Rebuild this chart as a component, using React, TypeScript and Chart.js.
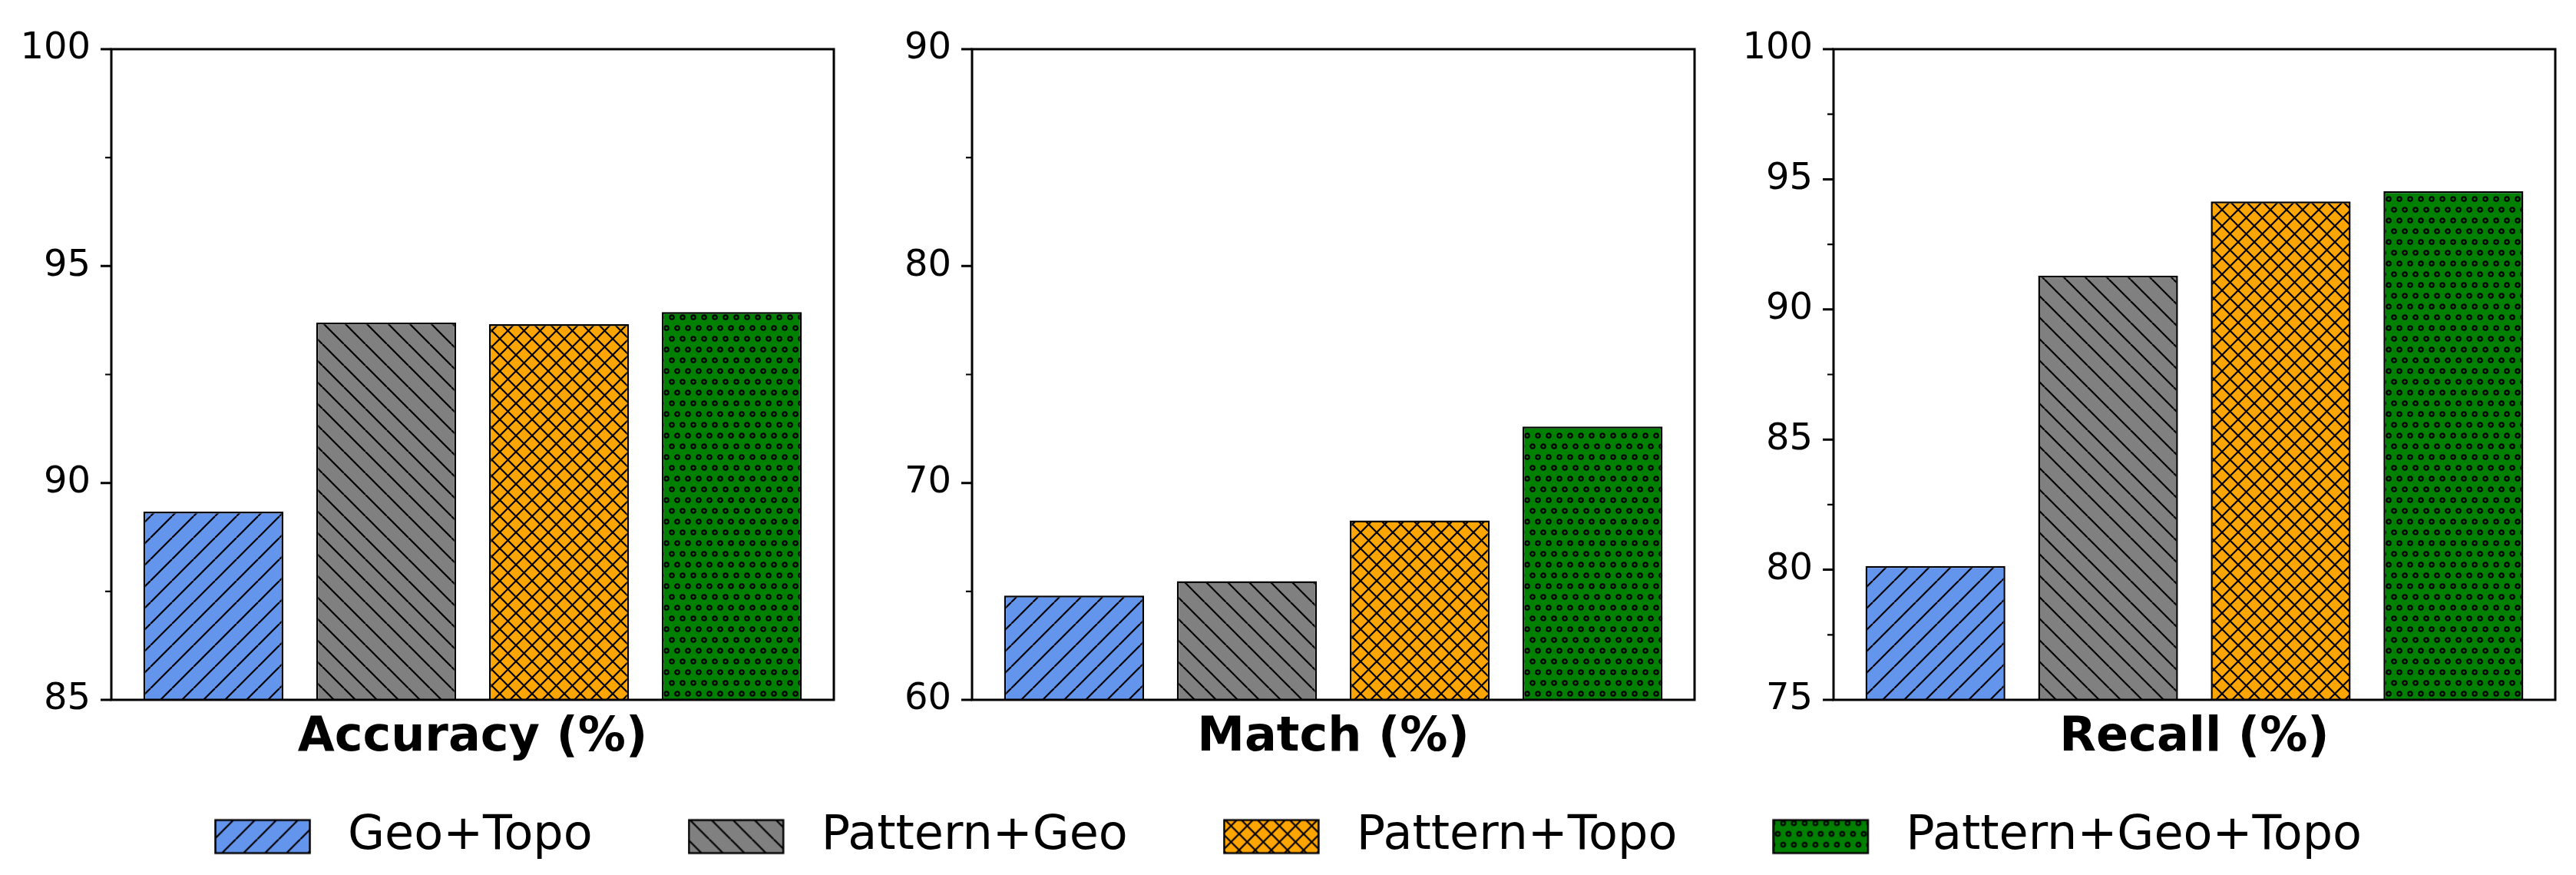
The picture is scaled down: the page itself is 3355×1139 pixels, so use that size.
import React, { useEffect, useRef } from 'react';
import { Chart, registerables } from 'chart.js';

Chart.register(...registerables);

const FONT = "'DejaVu Sans', 'Liberation Sans', sans-serif";

// ---- data ----
const methods = ['Geo+Topo', 'Pattern+Geo', 'Pattern+Topo', 'Pattern+Geo+Topo'];
const accuracy = [89.34, 93.7, 93.66, 93.94];
const match = [64.81, 65.47, 68.27, 72.6];
const recall = [80.14, 91.3, 94.15, 94.54];
const accuracyTicks = [85, 90, 95, 100];
const matchTicks = [60, 70, 80, 90];
const recallTicks = [75, 80, 85, 90, 95, 100];
const panelTitles = ['Accuracy (%)', 'Match (%)', 'Recall (%)'];

// ---- style ----
const colors = ['#6495ED', '#808080', '#FFA500', '#008000'];
const hatches = ['/', '\\', 'x', 'o'];
const W = 3355;
const H = 1139;
const panelLeft = [145, 1266, 2388];
const panelRight = [1086, 2207, 3328];
const plotTop = 64;
const plotBottom = 911;
const AXIS_W = 145;
const PAD_R = 14;
const PANEL_H = 1000;
const LEG_FONT = 62;
const SW_W = 124;
const SW_H = 43;

function makeTile(kind: string, bg: string): HTMLCanvasElement {
  const c = document.createElement('canvas');
  let w = 28;
  let h = 28;
  if (kind === 'x') {
    w = 21;
    h = 21;
  } else if (kind === 'o') {
    w = 14;
    h = 28;
  }
  c.width = w;
  c.height = h;
  const g = c.getContext('2d')!;
  g.fillStyle = bg;
  g.fillRect(0, 0, w, h);
  g.strokeStyle = '#000';
  g.lineWidth = 2.2;
  const diag = (dir: string) => {
    for (const k of [-1, 0, 1]) {
      g.beginPath();
      if (dir === '/') {
        g.moveTo(k * w, h);
        g.lineTo(k * w + w, 0);
      } else {
        g.moveTo(k * w, 0);
        g.lineTo(k * w + w, h);
      }
      g.stroke();
    }
  };
  if (kind === '/') diag('/');
  else if (kind === '\\') diag('\\');
  else if (kind === 'x') {
    diag('/');
    diag('\\');
  } else {
    const pts = [
      [0, 7],
      [14, 7],
      [7, 21],
    ];
    for (const [x, y] of pts) {
      g.beginPath();
      g.arc(x, y, 2.7, 0, Math.PI * 2);
      g.stroke();
    }
  }
  return c;
}

function makePattern(ctx: CanvasRenderingContext2D, i: number): CanvasPattern {
  return ctx.createPattern(makeTile(hatches[i], colors[i]), 'repeat')!;
}

function makeLegendImage(i: number, totalW: number): HTMLCanvasElement {
  const c = document.createElement('canvas');
  c.width = totalW;
  c.height = SW_H + 6;
  const g = c.getContext('2d')!;
  g.fillStyle = g.createPattern(makeTile(hatches[i], colors[i]), 'repeat')!;
  g.fillRect(1.5, 3, SW_W - 1, SW_H);
  g.strokeStyle = '#000';
  g.lineWidth = 2.5;
  g.strokeRect(1.5, 3, SW_W - 1, SW_H);
  return c;
}

const framePlugin = {
  id: 'frame',
  afterDraw(chart: any, _args: any, opts: any) {
    const { ctx, chartArea } = chart;
    const { left, top, right, bottom } = chartArea;
    const ys = chart.scales.y;
    ctx.save();
    ctx.strokeStyle = '#000';
    ctx.lineWidth = 3;
    ctx.strokeRect(left, top, right - left, bottom - top);
    ctx.beginPath();
    for (const v of opts.major || []) {
      const py = ys.getPixelForValue(v);
      ctx.moveTo(left - 14, py);
      ctx.lineTo(left, py);
    }
    ctx.stroke();
    ctx.lineWidth = 2.2;
    ctx.beginPath();
    for (const v of opts.minor || []) {
      const py = ys.getPixelForValue(v);
      ctx.moveTo(left - 8, py);
      ctx.lineTo(left, py);
    }
    ctx.stroke();
    ctx.restore();
  },
};

function minorsOf(t: number[]): number[] {
  const out: number[] = [];
  for (let i = 0; i < t.length - 1; i++) out.push((t[i] + t[i + 1]) / 2);
  return out;
}

export default function App() {
  const r0 = useRef<HTMLCanvasElement>(null);
  const r1 = useRef<HTMLCanvasElement>(null);
  const r2 = useRef<HTMLCanvasElement>(null);
  const rl = useRef<HTMLCanvasElement>(null);

  useEffect(() => {
    const series = [accuracy, match, recall];
    const ticks = [accuracyTicks, matchTicks, recallTicks];
    const refs = [r0, r1, r2];
    const charts: Chart[] = [];

    refs.forEach((ref, p) => {
      const canvas = ref.current!;
      const ctx = canvas.getContext('2d')!;
      const patterns = methods.map((_, i) => makePattern(ctx, i));
      const t = ticks[p];
      const ch = new Chart(ctx, {
        type: 'bar',
        data: {
          datasets: [
            {
              label: panelTitles[p],
              data: series[p].map((v, i) => ({ x: i, y: v })),
              backgroundColor: patterns,
              borderColor: '#000',
              borderWidth: 2.5,
              borderSkipped: false,
              barPercentage: 0.81,
              categoryPercentage: 1.0,
            } as any,
          ],
        },
        options: {
          responsive: false,
          animation: false,
          devicePixelRatio: 1,
          layout: { padding: { left: 0, right: PAD_R, top: plotTop, bottom: 0 } },
          plugins: {
            legend: { display: false },
            tooltip: { enabled: false },
            frame: { major: t, minor: minorsOf(t) },
          } as any,
          scales: {
            x: {
              type: 'linear',
              offset: false,
              min: -0.59,
              max: 3.59,
              grid: { display: false, drawTicks: false, offset: false },
              border: { display: false },
              ticks: { display: false },
              afterBuildTicks: (s: any) => {
                s.ticks = methods.map((_, i) => ({ value: i }));
              },
              title: {
                display: true,
                text: panelTitles[p],
                color: '#000',
                font: { family: FONT, size: 62, weight: 'bold' },
                padding: { top: 0, bottom: 2 },
              },
              afterFit: (s: any) => {
                s.height = PANEL_H - plotBottom;
              },
            },
            y: {
              min: t[0],
              max: t[t.length - 1],
              grid: { display: false, drawTicks: false },
              border: { display: false },
              ticks: {
                color: '#000',
                font: { family: FONT, size: 48 },
                padding: 27,
              },
              afterBuildTicks: (s: any) => {
                s.ticks = t.map((v) => ({ value: v }));
              },
              afterFit: (s: any) => {
                s.width = AXIS_W;
              },
            },
          },
        },
        plugins: [framePlugin],
      });
      charts.push(ch);
    });

    // legend: handle 2em wide, 0.8em text pad, 2em column spacing
    const textPad = Math.round(LEG_FONT * 0.8);
    const pointW = SW_W + textPad - LEG_FONT / 2;
    const colGap = SW_W;
    const lctx = rl.current!.getContext('2d')!;
    const legendImgs = methods.map((_, i) => makeLegendImage(i, pointW));
    const lchart = new Chart(lctx, {
      type: 'bar',
      data: {
        labels: [],
        datasets: methods.map((m, i) => ({
          label: m,
          data: [],
          backgroundColor: colors[i],
        })),
      },
      options: {
        responsive: false,
        animation: false,
        devicePixelRatio: 1,
        layout: { padding: 0 },
        scales: { x: { display: false }, y: { display: false } },
        plugins: {
          tooltip: { enabled: false },
          legend: {
            display: true,
            position: 'top',
            labels: {
              usePointStyle: true,
              pointStyleWidth: pointW,
              boxHeight: SW_H,
              padding: colGap,
              color: '#000',
              font: { family: FONT, size: LEG_FONT },
              generateLabels: () =>
                methods.map((m, i) => ({
                  text: m,
                  pointStyle: legendImgs[i] as any,
                  fillStyle: colors[i],
                  strokeStyle: '#000',
                  lineWidth: 0,
                  hidden: false,
                  datasetIndex: i,
                  fontColor: '#000',
                })),
            },
          },
        },
      },
    });
    charts.push(lchart);

    return () => {
      charts.forEach((c) => c.destroy());
    };
  }, []);

  const canvasStyle = (left: number, top: number, w: number, h: number): React.CSSProperties => ({
    position: 'absolute',
    left,
    top,
    width: w,
    height: h,
  });

  const LEG_TOP = 934;
  const LEG_H = 460;
  return (
    <div
      style={{
        position: 'fixed',
        left: 0,
        top: 0,
        width: W,
        height: H,
        background: '#fff',
        overflow: 'hidden',
      }}
    >
      <canvas ref={rl} width={W} height={LEG_H} style={canvasStyle(0, LEG_TOP, W, LEG_H)} />
      {[r0, r1, r2].map((ref, p) => {
        const left = panelLeft[p] - AXIS_W;
        const w = panelRight[p] - panelLeft[p] + AXIS_W + PAD_R;
        return <canvas key={p} ref={ref} width={w} height={PANEL_H} style={canvasStyle(left, 0, w, PANEL_H)} />;
      })}
    </div>
  );
}
